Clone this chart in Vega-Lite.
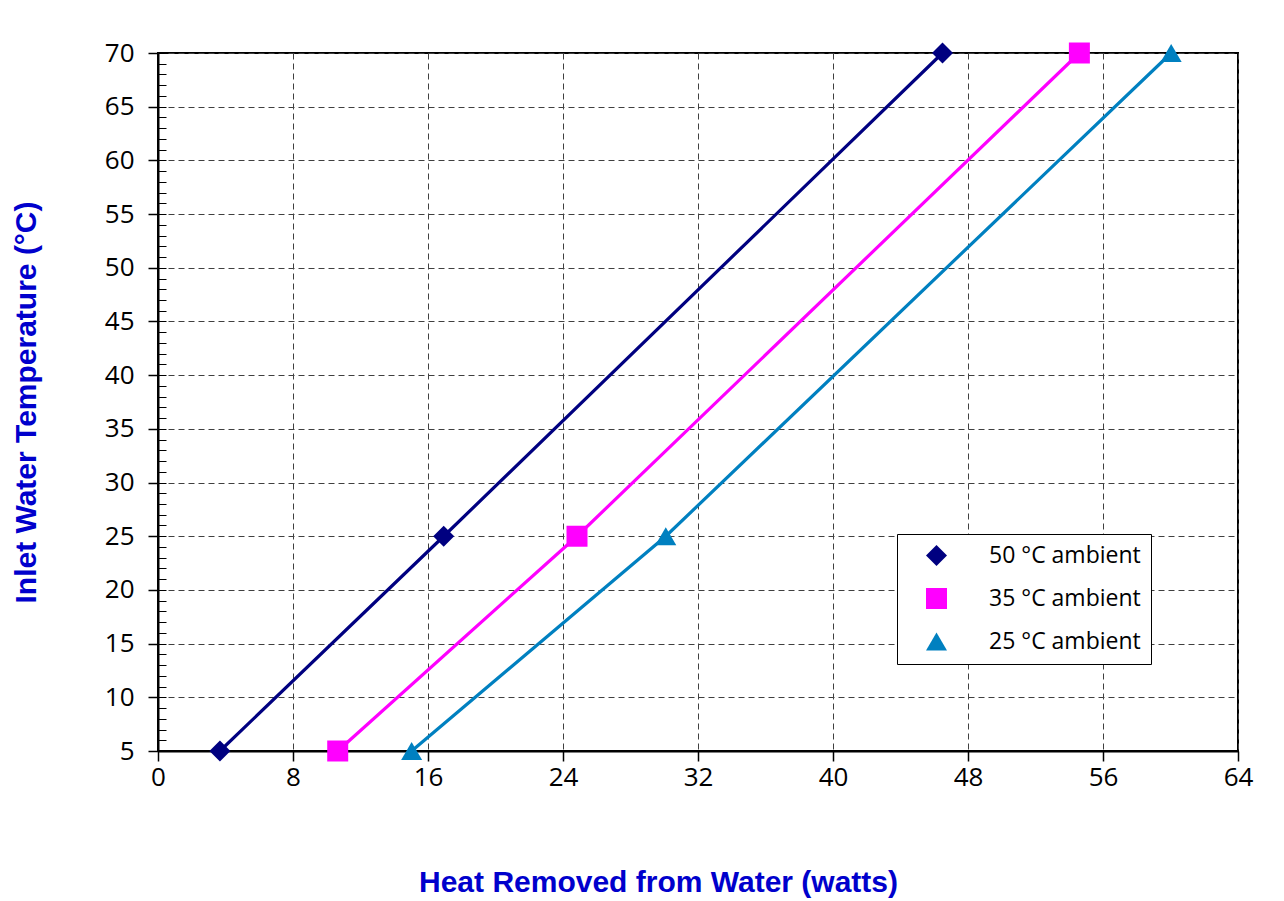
{
  "$schema": "https://vega.github.io/schema/vega-lite/v6.json",
  "width": 1080,
  "height": 698,
  "autosize": {"type": "none"},
  "padding": {"left": 158, "top": 53, "right": 46, "bottom": 150},
  "background": "white",
  "data": {
    "values": [
      {"series": "50 °C ambient", "heat": 3.67, "temp": 5},
      {"series": "50 °C ambient", "heat": 16.93, "temp": 25},
      {"series": "50 °C ambient", "heat": 46.49, "temp": 70},
      {"series": "35 °C ambient", "heat": 10.65, "temp": 5},
      {"series": "35 °C ambient", "heat": 24.83, "temp": 25},
      {"series": "35 °C ambient", "heat": 54.6, "temp": 70},
      {"series": "25 °C ambient", "heat": 15.03, "temp": 5},
      {"series": "25 °C ambient", "heat": 30.09, "temp": 25},
      {"series": "25 °C ambient", "heat": 60.04, "temp": 70}
    ]
  },
  "config": {
    "view": {"stroke": "black", "strokeWidth": 2},
    "axis": {
      "domainColor": "black",
      "domainWidth": 2,
      "tickColor": "black",
      "tickWidth": 1.5,
      "labelColor": "black",
      "labelFont": "Open Sans",
      "labelFontSize": 26,
      "labelFlush": false,
      "labelOverlap": false,
      "gridColor": "#404040",
      "gridDash": [6, 4],
      "gridWidth": 1,
      "titleFont": "Liberation Sans",
      "titleFontWeight": "bold",
      "titleFontSize": 30,
      "titleColor": "#0000CC"
    }
  },
  "layer": [
    {
      "mark": {"type": "line", "strokeWidth": 3.2},
      "encoding": {
        "x": {
          "field": "heat",
          "type": "quantitative",
          "scale": {"domain": [0, 64], "nice": false, "zero": false},
          "axis": {
            "values": [0, 8, 16, 24, 32, 40, 48, 56, 64],
            "tickSize": 10,
            "labelPadding": 3,
            "grid": true,
            "title": "Heat Removed from Water (watts)",
            "titleX": 500,
            "titleY": 140,
            "titleBaseline": "alphabetic"
          }
        },
        "y": {
          "field": "temp",
          "type": "quantitative",
          "scale": {"domain": [5, 70], "nice": false, "zero": false},
          "axis": {
            "orient": "left",
            "values": [5, 10, 15, 20, 25, 30, 35, 40, 45, 50, 55, 60, 65, 70],
            "tickSize": 10,
            "labelPadding": 14,
            "grid": true,
            "title": "Inlet Water Temperature (°C)",
            "titleX": -123,
            "titleBaseline": "alphabetic"
          }
        },
        "color": {
          "field": "series",
          "type": "nominal",
          "scale": {
            "domain": ["50 °C ambient", "35 °C ambient", "25 °C ambient"],
            "range": ["#000080", "#FF00FF", "#0080C0"]
          },
          "legend": {
            "title": null,
            "orient": "none",
            "legendX": 739,
            "legendY": 481,
            "strokeColor": "black",
            "fillColor": "white",
            "padding": 10,
            "rowPadding": 19,
            "symbolSize": 441,
            "symbolStrokeWidth": 0,
            "symbolOffset": 18,
            "labelFont": "Open Sans",
            "labelFontSize": 23,
            "labelColor": "black",
            "labelOffset": 41
          }
        }
      }
    },
    {
      "mark": {"type": "point", "filled": true, "size": 441, "opacity": 1},
      "encoding": {
        "x": {"field": "heat", "type": "quantitative"},
        "y": {"field": "temp", "type": "quantitative", "axis": null},
        "color": {"field": "series", "type": "nominal"},
        "shape": {
          "field": "series",
          "type": "nominal",
          "scale": {
            "domain": ["50 °C ambient", "35 °C ambient", "25 °C ambient"],
            "range": ["diamond", "square", "triangle-up"]
          },
          "legend": null
        }
      }
    },
    {
      "mark": {"type": "point", "opacity": 0},
      "encoding": {
        "x": {"field": "heat", "type": "quantitative"},
        "y": {
          "field": "temp",
          "type": "quantitative",
          "axis": {
            "orient": "left",
            "values": [5,6,7,8,9,10,11,12,13,14,15,16,17,18,19,20,21,22,23,24,25,26,27,28,29,30,31,32,33,34,35,36,37,38,39,40,41,42,43,44,45,46,47,48,49,50,51,52,53,54,55,56,57,58,59,60,61,62,63,64,65,66,67,68,69,70],
            "tickSize": -8,
            "tickWidth": 1,
            "labels": false,
            "domain": false,
            "grid": false,
            "title": null
          }
        }
      }
    }
  ],
  "resolve": {"axis": {"y": "independent"}}
}
